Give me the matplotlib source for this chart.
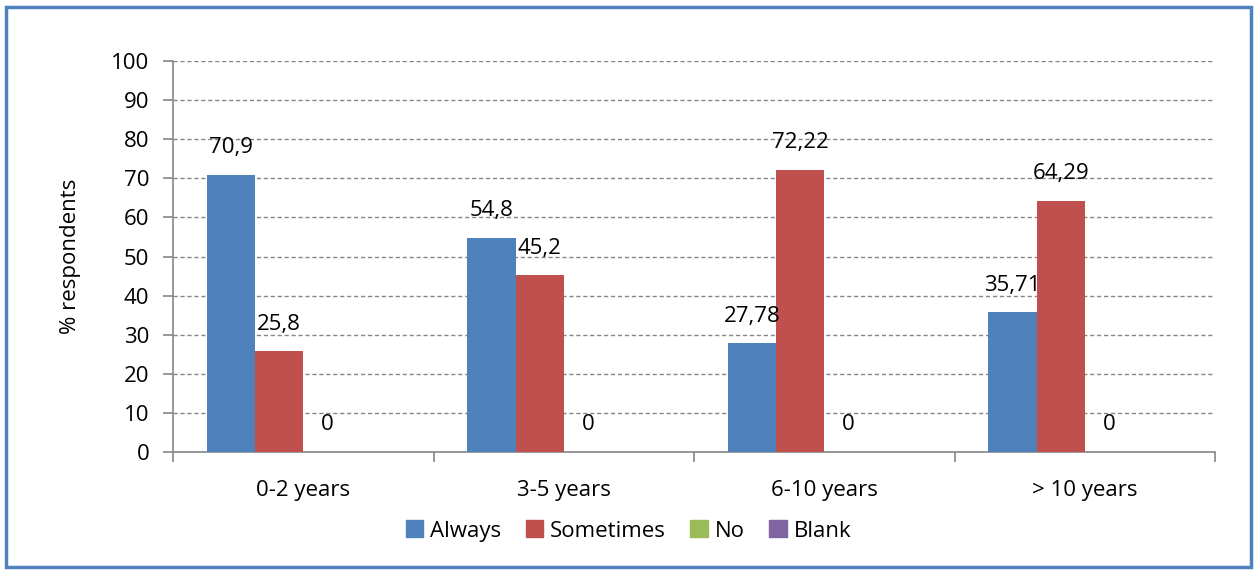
import matplotlib.pyplot as plt
import matplotlib.patches as mpatches
import numpy as np

# data
categories = ['0-2 years', '3-5 years', '6-10 years', '> 10 years']
series_names = ['Always', 'Sometimes', 'No', 'Blank']
always = [70.9, 54.8, 27.78, 35.71]
sometimes = [25.8, 45.2, 72.22, 64.29]
no = [0, 0, 0, 0]
blank = [None, None, None, None]
colors = ['#4F81BD', '#C0504D', '#9BBB59', '#8064A2']

plt.rcParams['font.family'] = ['Open Sans', 'DejaVu Sans']
fs = 16

fig = plt.figure(figsize=(12.57, 5.71), dpi=100)
ax = fig.add_axes([173 / 1257, 1 - 452 / 571, (1215 - 173) / 1257, (452 - 61) / 571])

x = np.arange(len(categories))
w = 0.185
all_series = [always, sometimes, no, blank]
for i, (vals, name, col) in enumerate(zip(all_series, series_names, colors)):
    pos = x + (i - 1.5) * w
    heights = [v if v is not None else 0 for v in vals]
    ax.bar(pos, heights, width=w, color=col, label=name, zorder=3)
    for p, v in zip(pos, vals):
        if v is None:
            continue
        ax.annotate(str(v).replace('.', ','), (p, v), xytext=(0, 27),
                    textcoords='offset pixels', ha='center', va='center',
                    fontsize=fs, zorder=4)

ax.set_xlim(-0.5, len(categories) - 0.5)
ax.set_ylim(0, 100)
ax.set_yticks(range(0, 101, 10))
ax.yaxis.grid(True, linestyle=(0, (3, 2)), color='#868686', linewidth=1, zorder=0)
ax.set_axisbelow(True)

ax.set_xticks(x)
ax.set_xticklabels(categories, fontsize=fs)
ax.set_xticks(np.arange(-0.5, len(categories)), minor=True)
ax.tick_params(axis='x', which='major', length=0, pad=20)
ax.tick_params(axis='x', which='minor', length=7, color='#868686', width=1.2)
ax.tick_params(axis='y', length=7, color='#868686', width=1.2, labelsize=fs, pad=10)

for s in ['top', 'right']:
    ax.spines[s].set_visible(False)
for s in ['left', 'bottom']:
    ax.spines[s].set_color('#868686')
    ax.spines[s].set_linewidth(1.2)

ax.set_ylabel('% respondents', fontsize=fs, labelpad=22)

handles = [mpatches.Patch(color=c, label=n) for c, n in zip(colors, series_names)]
fig.legend(handles=handles, loc='center', bbox_to_anchor=(0.5, 1 - 531 / 571),
           ncol=4, frameon=False, fontsize=fs, handlelength=0.8, handleheight=0.8,
           handletextpad=0.3, columnspacing=1.1)

border = mpatches.Rectangle((6 / 1257, 4 / 571), 1245 / 1257, 560 / 571,
                            transform=fig.transFigure, fill=False,
                            edgecolor='#4F81BD', linewidth=2.5)
fig.patches.append(border)

fig.savefig('out.png', dpi=100)
